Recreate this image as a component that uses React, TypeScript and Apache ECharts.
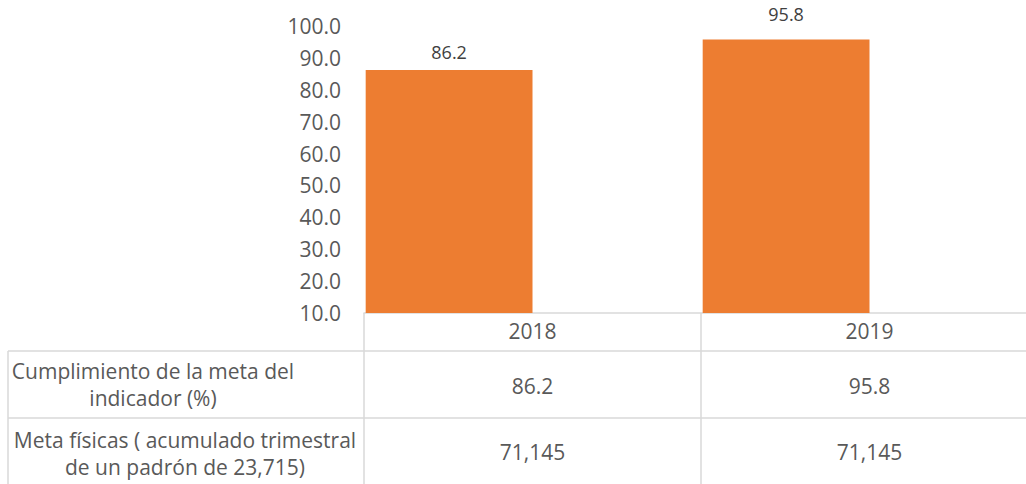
import React, { useEffect, useRef } from "react";
import * as echarts from "echarts";

const years = ["2018", "2019"];
const cumplimiento = [86.2, 95.8];
const metaFisicas = ["71,145", "71,145"];
const rowLabels = [
  "Cumplimiento de la meta del\nindicador (%)",
  "Meta físicas ( acumulado trimestral\nde un padrón de 23,715)",
];
const yTicks = { min: 10, max: 100, interval: 10 };

const FONT = "'Open Sans', sans-serif";
const TEXT = "#595959";
const LINE = "#d9d9d9";
const FS = 21;
const labelDistances = [9, 16];

export default function App() {
  const ref = useRef<HTMLDivElement>(null);
  useEffect(() => {
    if (!ref.current) return;
    const chart = echarts.init(ref.current, undefined, { renderer: "svg" });
    chart.setOption({
      animation: false,
      textStyle: { fontFamily: FONT },
      grid: {
        left: 364,
        width: 674,
        top: 26,
        bottom: 171,
        containLabel: false,
        outerBoundsMode: "none",
      },
      xAxis: [
        {
          type: "category",
          data: years,
          position: "bottom",
          axisLine: { show: true, lineStyle: { color: LINE, width: 1.5 } },
          axisTick: { show: true, length: 171, lineStyle: { color: LINE, width: 1.5 } },
          axisLabel: { color: TEXT, fontSize: FS, fontFamily: FONT, margin: 7 },
        },
        {
          type: "category",
          data: cumplimiento.map((v) => v.toFixed(1)),
          position: "bottom",
          offset: 55,
          axisLine: { show: false },
          axisTick: { show: false },
          axisLabel: { color: TEXT, fontSize: FS, fontFamily: FONT, margin: 7 },
        },
        {
          type: "category",
          data: metaFisicas,
          position: "bottom",
          offset: 121,
          axisLine: { show: false },
          axisTick: { show: false },
          axisLabel: { color: TEXT, fontSize: FS, fontFamily: FONT, margin: 7 },
        },
      ],
      yAxis: {
        type: "value",
        min: yTicks.min,
        max: yTicks.max,
        interval: yTicks.interval,
        axisLine: { show: false },
        axisTick: { show: false },
        splitLine: { show: false },
        axisLabel: {
          color: TEXT,
          fontSize: FS,
          fontFamily: FONT,
          margin: 23,
          formatter: (v: number) => v.toFixed(1),
        },
      },
      series: [
        {
          type: "bar",
          name: "Cumplimiento de la meta del indicador (%)",
          data: cumplimiento.map((v, i) => ({ value: v, label: { distance: labelDistances[i] } })),
          xAxisIndex: 0,
          barGap: "0%",
          barCategoryGap: "1%",
          itemStyle: { color: "#ED7D31" },
          label: {
            show: true,
            position: "top",
            distance: 9,
            color: "#404040",
            fontSize: 18,
            fontFamily: FONT,
            formatter: (p: any) => Number(p.value).toFixed(1),
          },
        },
        {
          type: "bar",
          name: "placeholder",
          data: years.map(() => "-"),
          xAxisIndex: 0,
          barGap: "0%",
          barCategoryGap: "1%",
          itemStyle: { color: "transparent" },
        },
      ],
      graphic: [
        { type: "line", shape: { x1: 8, y1: 351, x2: 1026, y2: 351 }, style: { stroke: LINE, lineWidth: 1.5 } },
        { type: "line", shape: { x1: 8, y1: 418, x2: 1026, y2: 418 }, style: { stroke: LINE, lineWidth: 1.5 } },
        { type: "line", shape: { x1: 8, y1: 351, x2: 8, y2: 484 }, style: { stroke: LINE, lineWidth: 1.5 } },
        {
          type: "text",
          x: 153,
          y: 384,
          style: {
            text: rowLabels[0],
            fill: TEXT,
            font: `${FS}px ${FONT}`,
            align: "center",
            verticalAlign: "middle",
            lineHeight: 27,
          },
        },
        {
          type: "text",
          x: 185,
          y: 453,
          style: {
            text: rowLabels[1],
            fill: TEXT,
            font: `${FS}px ${FONT}`,
            align: "center",
            verticalAlign: "middle",
            lineHeight: 27,
          },
        },
      ],
    });
    return () => chart.dispose();
  }, []);
  return (
    <div
      ref={ref}
      style={{ position: "fixed", left: 0, top: 0, width: 1026, height: 484, background: "#fff" }}
    />
  );
}
